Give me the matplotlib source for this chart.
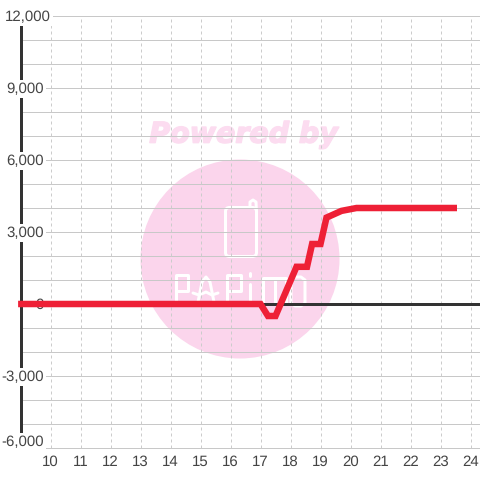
import matplotlib
matplotlib.use("Agg")
import matplotlib.pyplot as plt
import matplotlib.patheffects as pe
from matplotlib.patches import Circle, FancyBboxPatch

plt.rcParams["font.family"] = ["Liberation Sans", "DejaVu Sans"]
plt.rcParams["text.hinting"] = "no_hinting"
plt.rcParams["text.hinting_factor"] = 1

hours = [8.92, 17, 17.25, 17.5, 18.2, 18.55, 18.72, 19, 19.2, 19.7, 20.2, 23.55]
values = [0, 0, -500, -500, 1550, 1550, 2500, 2500, 3600, 3880, 4000, 4000]
x_ticks = list(range(10, 25))
y_grid = list(range(-6000, 13000, 1000))
y_ticks = [12000, 9000, 6000, 3000, 0, -3000, -6000]

PX = 1 / 100 * 72

fig = plt.figure(figsize=(4.8, 4.8), dpi=100)

# watermark sits under the chart, drawn in pixel coords
wm = fig.add_axes([0, 0, 1, 1], zorder=0)
wm.set_xlim(0, 480)
wm.set_ylim(480, 0)
wm.axis("off")
wm.add_patch(Circle((240, 259), 99.5, fc="#fbd5ec", ec="none"))
wm.text(242, 135, "Powered by", color="#fcdcf0", fontsize=20.5, fontweight="bold",
        fontstyle="italic", ha="center", va="center", family="DejaVu Sans",
        path_effects=[pe.withStroke(linewidth=1.5 * PX, foreground="#fcdcf0")])
wm.add_patch(FancyBboxPatch((225.5, 207.5), 31, 49, boxstyle="round,pad=0,rounding_size=4",
                            fc="none", ec="white", lw=3 * PX))

logo_strokes = [
    [(250, 206), (250, 202), (253, 200), (256, 202), (256.5, 212)],
    # P
    [(176, 302), (176, 275), (188, 275), (188, 291), (176, 291)],
    # A
    [(198, 302), (202, 282), (206, 277), (210, 282), (214, 302)],
    [(193, 293), (199, 295), (206, 292), (212, 295), (218, 293)],
    # P
    [(227, 302), (227, 275), (241, 275), (241, 291), (227, 291)],
    # i
    [(250, 284), (250, 302)],
    [(250, 273), (250, 276)],
    # m
    [(263, 302), (263, 278), (286, 278), (286, 302)],
    [(274.5, 278), (274.5, 302)],
    # O
    [(291, 280), (291, 303), (295, 306), (301, 306), (305, 303), (305, 280), (301, 277), (295, 277), (291, 280)],
]
for stroke in logo_strokes:
    wm.plot([p[0] for p in stroke], [p[1] for p in stroke], color="white", lw=3 * PX,
            solid_capstyle="round", solid_joinstyle="round")

ax = fig.add_axes([0, 0, 1, 1], zorder=1)
ax.patch.set_alpha(0)
ax.set_xlim(10 - 50.5 / 30, 10 + 429.5 / 30)
ax.set_ylim(-176 / 24 * 1000, 304 / 24 * 1000)
ax.axis("off")

ax.hlines(y_grid, 9, 24.32, color="#c8c8c8", lw=1 * PX, zorder=1)
ax.vlines(x_ticks, -6000, 12000, color="#cccccc", lw=1 * PX, linestyles=(0, (3, 3)), zorder=1)
ax.hlines(0, 9, 24.32, color="#333333", lw=3 * PX, zorder=2)
ax.vlines(9, -6000, 12000, color="#333333", lw=3 * PX, zorder=2)

ax.plot(hours, values, color="#ee2036", lw=6.5 * PX, solid_capstyle="butt",
        solid_joinstyle="miter", zorder=5)

for v in y_ticks:
    dx = 7.5 if v == 12000 else 0
    dy = 5.5 if v == -6000 else -1
    ax.annotate(f"{v:,}", (9.77, v), xytext=(dx * PX, dy * PX), textcoords="offset points",
                ha="right", va="center", fontsize=10.5, color="#444444", zorder=4,
                bbox=dict(fc="white", ec="none", pad=1.5))
for x in x_ticks:
    ax.annotate(str(x), (x, -6000), xytext=(0, -14 * PX), textcoords="offset points",
                ha="center", va="center", fontsize=10.5, color="#444444", zorder=4)

fig.savefig("out.png", dpi=100)
